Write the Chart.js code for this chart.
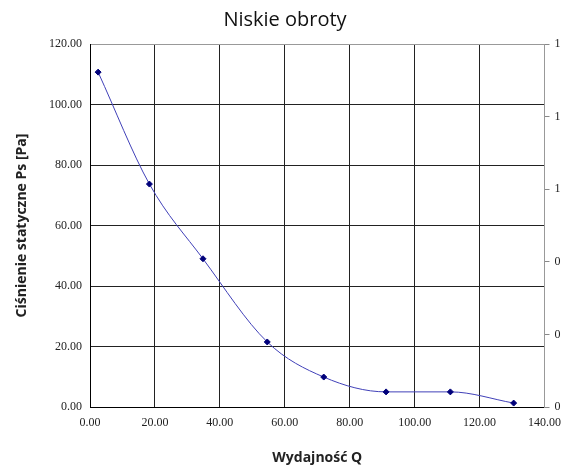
<!DOCTYPE html>
<html>
<head>
<meta charset="utf-8">
<script src="https://cdn.jsdelivr.net/npm/chart.js@4"></script>
<style>
  html, body { margin: 0; padding: 0; background: #fff; }
  #wrap { width: 570px; height: 471px; }
</style>
</head>
<body>
<div id="wrap"><canvas id="myChart" width="570" height="471"></canvas></div>
<script>
// values
const flowQ = [2.5, 18.3, 34.8, 54.6, 72.0, 91.2, 111.0, 130.5];
const pressurePs = [110.7, 73.7, 49.0, 21.5, 9.9, 5.0, 5.0, 1.3];
const xTicks = [0, 20, 40, 60, 80, 100, 120, 140];
const yTicks = [0, 20, 40, 60, 80, 100, 120];
const rightTicks = [0, 0.2, 0.4, 0.6, 0.8, 1];

const points = flowQ.map((q, i) => ({ x: q, y: pressurePs[i] }));

const tickFont = { family: 'Liberation Serif', size: 12 };
const ctx = document.getElementById('myChart');

new Chart(ctx, {
    type: 'scatter',
    data: {
        datasets: [{
            label: 'Ps',
            data: points,
            showLine: true,
            cubicInterpolationMode: 'monotone',
            borderColor: '#4040b8',
            borderWidth: 1,
            pointStyle: 'rectRot',
            pointRadius: 3,
            pointBackgroundColor: '#00007a',
            pointBorderColor: '#00007a',
            pointBorderWidth: 1,
        }]
    },
    options: {
        responsive: false,
        animation: false,
        layout: { padding: 0 },
        plugins: {
            legend: { display: false },
            tooltip: { enabled: false },
            title: {
                display: true,
                text: 'Niskie obroty',
                color: '#111',
                font: { family: 'Open Sans', size: 20, weight: 'normal', lineHeight: 1.2 },
                padding: { top: 8, bottom: 12 },
            }
        },
        scales: {
            x: {
                type: 'linear',
                min: xTicks[0],
                max: xTicks[xTicks.length - 1],
                afterBuildTicks: s => { s.ticks = xTicks.map(v => ({ value: v })); },
                afterFit: s => { s.height = 64; },
                grid: {
                    color: c => c.tick && c.tick.value === 140 ? '#999' : '#222',
                    drawTicks: false,
                },
                border: { color: '#000' },
                ticks: {
                    font: tickFont,
                    color: '#222',
                    padding: 9,
                    maxRotation: 0,
                    callback: v => Number(v).toFixed(2),
                },
                title: {
                    display: true,
                    text: 'Wydajność Q',
                    color: '#222',
                    font: { family: 'Open Sans', size: 14, weight: 'bold', lineHeight: 1.2 },
                    padding: { top: 0, bottom: 5 },
                }
            },
            y: {
                position: 'left',
                min: yTicks[0],
                max: yTicks[yTicks.length - 1],
                afterBuildTicks: s => { s.ticks = yTicks.map(v => ({ value: v })); },
                afterFit: s => { s.width = 90; },
                grid: {
                    color: c => c.tick && c.tick.value === 120 ? '#999' : '#222',
                    drawTicks: false,
                },
                border: { color: '#000' },
                ticks: {
                    font: tickFont,
                    color: '#222',
                    padding: 8,
                    callback: v => Number(v).toFixed(2),
                },
                title: {
                    display: true,
                    text: 'Ciśnienie statyczne Ps [Pa]',
                    color: '#222',
                    font: { family: 'Open Sans', size: 14, weight: 'bold', lineHeight: 1.2 },
                    padding: { top: 14, bottom: 0 },
                }
            },
            y2: {
                position: 'right',
                min: 0,
                max: 1,
                afterBuildTicks: s => { s.ticks = rightTicks.map(v => ({ value: v })); },
                afterFit: s => { s.width = 21; },
                grid: {
                    drawOnChartArea: false,
                    drawTicks: true,
                    tickLength: 5,
                    color: '#888',
                },
                border: { color: '#999' },
                ticks: {
                    font: tickFont,
                    color: '#222',
                    padding: 5,
                    callback: v => Math.round(v).toString(),
                }
            }
        }
    }
});
</script>
</body>
</html>
